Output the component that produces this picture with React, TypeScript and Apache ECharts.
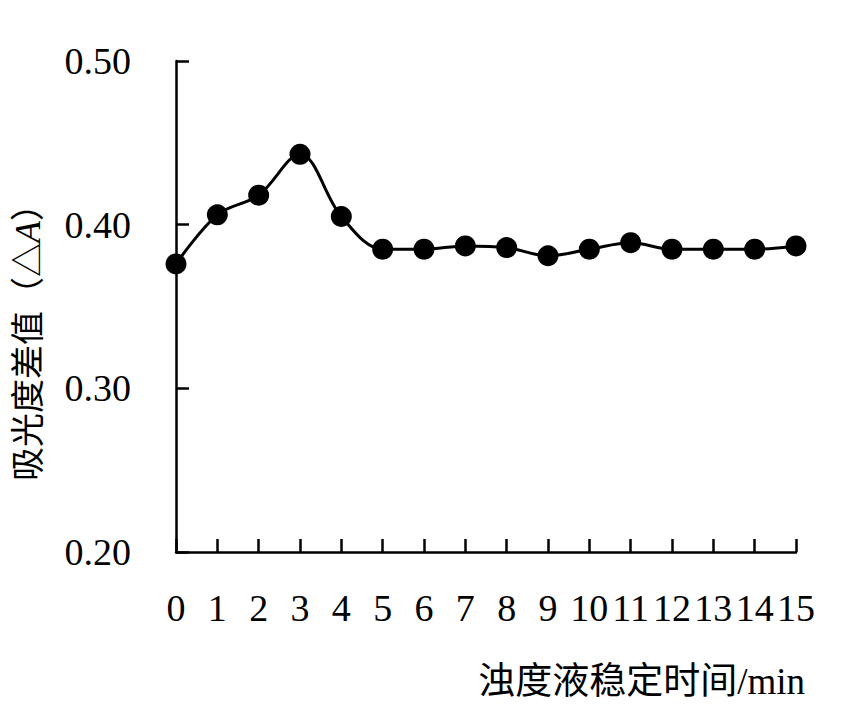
import React, { useEffect, useRef } from "react";
import * as echarts from "echarts";

const categories = ["0", "1", "2", "3", "4", "5", "6", "7", "8", "9", "10", "11", "12", "13", "14", "15"];
const absorbanceDiff = [0.376, 0.406, 0.418, 0.443, 0.405, 0.385, 0.385, 0.387, 0.386, 0.381, 0.385, 0.389, 0.385, 0.385, 0.385, 0.387];
const yTicks = { min: 0.2, max: 0.5, interval: 0.1 };
const yAxisName = "吸光度差值（△{i|A}）";
const xAxisName = "浊度液稳定时间/min";

const FONT = "'Liberation Serif', 'Times New Roman', 'Noto Sans CJK SC', serif";

export default function App() {
  const ref = useRef<HTMLDivElement>(null);
  useEffect(() => {
    document.body.style.margin = "0";
    const chart = echarts.init(ref.current!, null, { renderer: "svg" });
    chart.setOption({
      animation: false,
      backgroundColor: "#ffffff",
      grid: { left: 176, right: 54, top: 61, bottom: 169, containLabel: false },
      xAxis: {
        type: "category",
        data: categories,
        boundaryGap: false,
        axisLine: { lineStyle: { color: "#000", width: 2.5 } },
        axisTick: { inside: true, length: 13, lineStyle: { color: "#000", width: 2.5 } },
        axisLabel: { color: "#000", fontFamily: FONT, fontSize: 38, margin: 37, interval: 0 },
        splitLine: { show: false },
      },
      yAxis: {
        type: "value",
        min: yTicks.min,
        max: yTicks.max,
        interval: yTicks.interval,
        axisLine: { show: true, lineStyle: { color: "#000", width: 2.5 } },
        axisTick: { show: true, inside: true, length: 13, lineStyle: { color: "#000", width: 2.5 } },
        axisLabel: {
          color: "#000",
          fontFamily: FONT,
          fontSize: 38,
          margin: 45,
          formatter: (v: number) => v.toFixed(2),
        },
        splitLine: { show: false },
      },
      graphic: [
        {
          type: "text",
          x: 28,
          y: 334,
          rotation: Math.PI / 2,
          style: {
            text: yAxisName,
            fontFamily: FONT,
            fontSize: 34,
            fill: "#000",
            align: "center",
            verticalAlign: "middle",
            rich: {
              i: { fontFamily: FONT, fontSize: 36, fontStyle: "italic", fill: "#000" },
            },
          },
        },
        {
          type: "text",
          right: 45,
          top: 663,
          style: {
            text: xAxisName,
            fontFamily: FONT,
            fontSize: 37,
            fill: "#000",
          },
        },
      ],
      series: [
        {
          type: "line",
          data: absorbanceDiff,
          smooth: 0.35,
          symbol: "circle",
          symbolSize: 21,
          itemStyle: { color: "#000" },
          lineStyle: { color: "#000", width: 3 },
        },
      ],
    });
    return () => chart.dispose();
  }, []);
  return <div ref={ref} style={{ width: 850, height: 721 }} />;
}
